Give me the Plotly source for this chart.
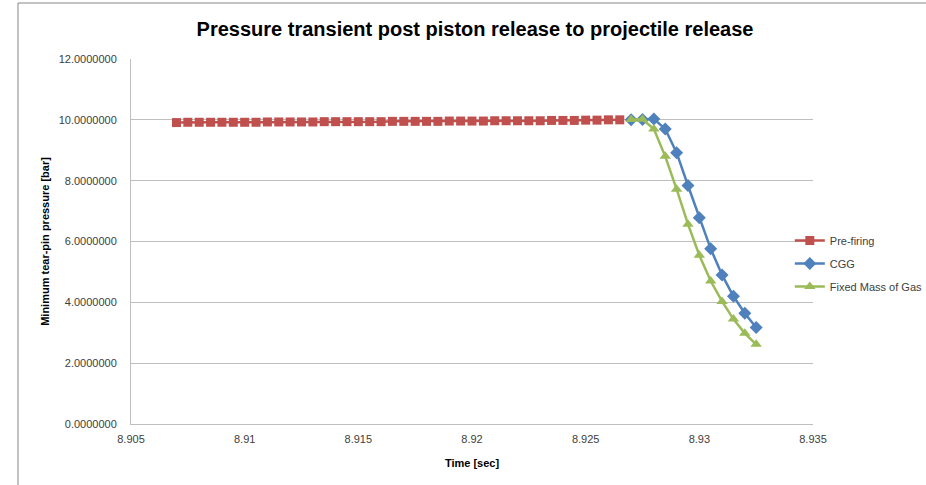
import plotly.graph_objects as go

# Data
pre_t = [8.9070 + 0.0005 * i for i in range(40)]
pre_p = [9.91, 9.92, 9.92, 9.92, 9.92, 9.92, 9.92, 9.92, 9.93, 9.93,
         9.93, 9.93, 9.93, 9.94, 9.94, 9.94, 9.94, 9.94, 9.94, 9.95,
         9.95, 9.95, 9.95, 9.95, 9.96, 9.96, 9.96, 9.96, 9.97, 9.97,
         9.97, 9.97, 9.97, 9.98, 9.98, 9.98, 9.99, 9.99, 10.00, 10.00]

cgg_t = [8.9270, 8.9275, 8.9280, 8.9285, 8.9290, 8.9295, 8.9300, 8.9305,
         8.9310, 8.9315, 8.9320, 8.9325]
cgg_p = [10.00, 10.01, 10.03, 9.70, 8.92, 7.84, 6.78, 5.76, 4.90, 4.20, 3.64, 3.17]

fm_t = [8.9270, 8.9275, 8.9280, 8.9285, 8.9290, 8.9295, 8.9300, 8.9305,
        8.9310, 8.9315, 8.9320, 8.9325]
fm_p = [10.01, 10.02, 9.70, 8.80, 7.72, 6.57, 5.55, 4.70, 4.03, 3.45, 2.98, 2.62]

y_ticks = [0, 2, 4, 6, 8, 10, 12]
x_ticks = [8.905, 8.91, 8.915, 8.92, 8.925, 8.93, 8.935]
x_tick_labels = ["8.905", "8.91", "8.915", "8.92", "8.925", "8.93", "8.935"]

FONT = "Liberation Sans Narrow, Liberation Sans, Arial, sans-serif"

fig = go.Figure()
fig.add_trace(go.Scatter(x=pre_t, y=pre_p, name="Pre-firing", mode="lines+markers",
                         legendgroup="a",
                         line=dict(color="#C0504D", width=2.5),
                         marker=dict(symbol="square", size=9, color="#C0504D")))
fig.add_trace(go.Scatter(x=cgg_t, y=cgg_p, name="CGG", mode="lines+markers",
                         legendgroup="b",
                         line=dict(color="#4F81BD", width=2.5),
                         marker=dict(symbol="diamond", size=10, color="#4F81BD")))
fig.add_trace(go.Scatter(x=fm_t, y=fm_p, name="Fixed Mass of Gas", mode="lines+markers",
                         legendgroup="c",
                         line=dict(color="#9BBB59", width=2.5),
                         marker=dict(symbol="triangle-up", size=10, color="#9BBB59")))

fig.update_layout(
    width=926, height=485,
    margin=dict(l=131, r=113, t=59, b=61, autoexpand=False),
    paper_bgcolor="white", plot_bgcolor="white",
    font=dict(family=FONT, size=11, color="#404040"),
    title=dict(text="<b>Pressure transient post piston release to projectile release</b>",
               x=0.513, xanchor="center", y=0.94, yanchor="middle",
               font=dict(family=FONT, size=20, color="black")),
    showlegend=True,
    legend=dict(x=0.966, y=0.44, xanchor="left", yanchor="middle",
                bgcolor="rgba(0,0,0,0)", font=dict(size=11, color="#404040"),
                tracegroupgap=4, itemwidth=30),
    xaxis=dict(range=[8.905, 8.935], tickvals=x_ticks, ticktext=x_tick_labels,
               showgrid=False, zeroline=False, showline=True, linecolor="#BFBFBF",
               linewidth=1, ticks="", ticklabelstandoff=5,
               tickfont=dict(size=11, color="#404040"),
               title=dict(text="<b>Time [sec]</b>", font=dict(size=11, color="black"), standoff=15)),
    yaxis=dict(range=[0, 12], tickvals=y_ticks, tickformat=".7f",
               showgrid=True, gridcolor="#BFBFBF", gridwidth=1, zeroline=False,
               showline=True, linecolor="#BFBFBF", linewidth=1, ticks="",
               ticklabelstandoff=11,
               tickfont=dict(size=11, color="#404040"),
               title=dict(text="<b>Minimum tear-pin pressure [bar]</b>",
                          font=dict(size=11, color="black"), standoff=6)),
    shapes=[
        dict(type="line", xref="paper", yref="paper",
             x0=(18 - 131) / 682, x1=(18 - 131) / 682,
             y0=-0.3, y1=(424 - 3) / 365,
             line=dict(color="#868686", width=1)),
        dict(type="line", xref="paper", yref="paper",
             x0=(18 - 131) / 682, x1=(940 - 131) / 682,
             y0=(424 - 3) / 365, y1=(424 - 3) / 365,
             line=dict(color="#868686", width=1)),
    ],
)

fig.write_html("out.html", config={"displayModeBar": False},
               post_script="document.body.style.margin='0';")
